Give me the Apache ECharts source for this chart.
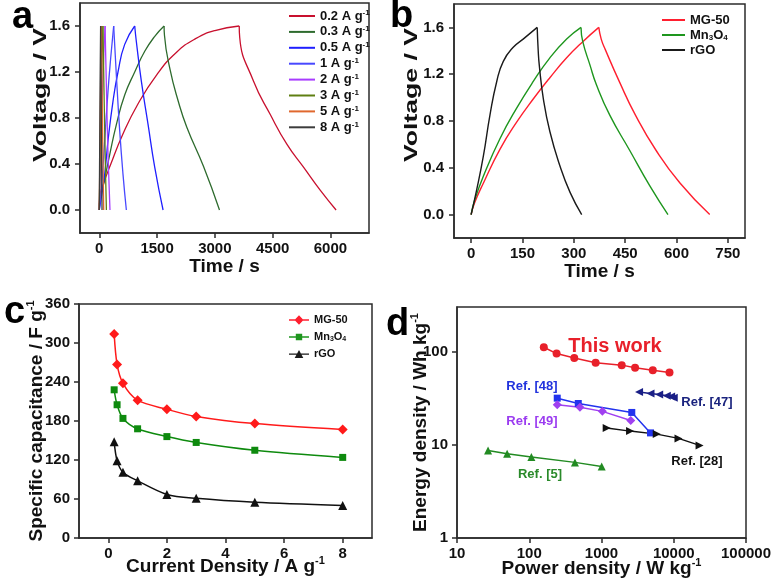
<!DOCTYPE html>
<html>
<head>
<meta charset="utf-8">
<script src="https://cdn.jsdelivr.net/npm/echarts@6/dist/echarts.min.js"></script>
<style>
html, body { margin: 0; padding: 0; background: #fff; }
#main { width: 774px; height: 584px; }
</style>
</head>
<body>
<div id="main"></div>
<script>
var FONT = '"Liberation Sans", Arial, Helvetica, sans-serif';

// ---- (a) charge/discharge curves of MG-50 at different current densities: [time s, voltage V]
var aNames = ['0.2 A g-1', '0.3 A g-1', '0.5 A g-1', '1 A g-1', '2 A g-1', '3 A g-1', '5 A g-1', '8 A g-1'];
var aColors = ['#c8102e', '#2e6b2e', '#1f1fff', '#4848ff', '#a83cff', '#5f7f12', '#e0682e', '#3c3c3c'];
var a02 = [[0, 0], [15, 0.12], [100, 0.22], [300, 0.4], [600, 0.65], [1000, 0.92], [1500, 1.18], [2000, 1.37], [2500, 1.49], [3000, 1.56], [3632, 1.6],
           [3645, 1.5], [4004, 1.12], [4438, 0.83], [4872, 0.57], [5305, 0.37], [5738, 0.17], [6146, 0]];
var a03 = [[0, 0], [20, 0.1], [96, 0.2], [270, 0.48], [442, 0.74], [660, 1.0], [920, 1.2], [1180, 1.38], [1440, 1.51], [1682, 1.6],
           [1692, 1.52], [1838, 1.22], [2046, 0.95], [2272, 0.72], [2704, 0.38], [3120, 0]];
var a05 = [[0, 0], [140, 0.31], [226, 0.6], [356, 0.945], [486, 1.2], [660, 1.44], [920, 1.6],
           [962, 1.465], [1092, 1.12], [1266, 0.744], [1440, 0.37], [1656, 0]];
var a1 = [[0, 0], [70, 0.25], [140, 0.6], [226, 1.03], [296, 1.32], [374, 1.6], [442, 1.18], [530, 0.69], [616, 0.31], [703, 0]];
var a2 = [[0, 0], [40, 0.5], [90, 1.1], [150, 1.6], [190, 1.0], [230, 0.45], [278, 0]];
var a3 = [[0, 0], [30, 0.6], [60, 1.15], [95, 1.6], [125, 1.0], [155, 0.45], [185, 0]];
var a5 = [[0, 0], [20, 0.6], [35, 1.1], [55, 1.6], [75, 1.0], [95, 0.45], [115, 0]];
var a8 = [[0, 0], [12, 0.6], [22, 1.1], [35, 1.6], [48, 1.0], [60, 0.45], [72, 0]];
var aCurves = [a02, a03, a05, a1, a2, a3, a5, a8];
var aTimeTicks = [0, 1500, 3000, 4500, 6000];
var voltTicks = [0, 0.4, 0.8, 1.2, 1.6];

// ---- (b) charge/discharge of the three electrodes
var bNames = ['MG-50', 'Mn3O4', 'rGO'];
var bColors = ['#ff1f2f', '#1e961e', '#1a1a1a'];
var bMG50 = [[0, 0], [10, 0.1], [36, 0.27], [84.5, 0.56], [133, 0.79], [182, 0.99], [230, 1.17], [279, 1.34], [327, 1.48], [373, 1.6],
             [380, 1.5], [392, 1.41], [434, 1.13], [480, 0.85], [540, 0.55], [610, 0.27], [697, 0]];
var bMn3O4 = [[0, 0], [10, 0.12], [36, 0.33], [84.5, 0.65], [133, 0.91], [182, 1.14], [230, 1.34], [279, 1.5], [321, 1.6],
              [326, 1.48], [347, 1.28], [366, 1.11], [405, 0.85], [463, 0.55], [522, 0.245], [575, 0]];
var bRGO = [[0, 0], [16.5, 0.216], [36, 0.504], [55, 0.85], [75, 1.14], [94, 1.31], [123, 1.43], [152, 1.5], [193, 1.6],
            [196, 1.4], [199, 1.28], [211, 0.99], [230, 0.71], [259, 0.42], [289, 0.19], [323, 0]];
var bCurves = [bMG50, bMn3O4, bRGO];
var bTimeTicks = [0, 150, 300, 450, 600, 750];

// ---- (c) specific capacitance vs current density
var cCurrent = [0.2, 0.3, 0.5, 1, 2, 3, 5, 8];
var cMG50 = [314, 267, 238, 212, 198, 187, 176, 167];
var cMn3O4 = [228, 205, 184, 168, 156, 147, 135, 124];
var cRGO = [148, 119, 101, 88, 67, 61, 55, 50];
var cTicks = [0, 2, 4, 6, 8];

// ---- (d) Ragone plot: [power W/kg, energy Wh/kg]
var dThisWork = [[159, 111], [239, 95], [420, 85], [830, 75.6], [1905, 71.4], [2916, 66.8], [5128, 63], [8730, 59.6]];
var dRef48 = [[244, 31.6], [477, 27.7], [2625, 22.2], [4765, 13.4]];
var dRef49 = [[244, 26.8], [503, 25.3], [1028, 22.8], [2540, 18.2]];
var dRef47 = [[3311, 36.7], [4762, 35.5], [6285, 34.6], [8018, 33.5], [9205, 32.9], [10000, 31.9]];
var dRef28 = [[1180, 15.1], [2484, 14.0], [5820, 13.0], [11640, 11.7], [22750, 9.84]];
var dRef5 = [[26.9, 8.7], [49.4, 8.0], [107, 7.38], [429, 6.47], [1005, 5.86]];

var RICH = {
  s: { fontFamily: FONT, fontSize: 11, fontWeight: 'bold', color: '#111', lineHeight: 22, padding: [0, 0, 12, 0] }
};

function axis(gi, o) {
  return {
    gridIndex: gi,
    type: o.type || 'value',
    min: o.min, max: o.max, interval: o.interval,
    name: o.name || '',
    nameLocation: 'middle',
    nameGap: o.gap,
    nameMoveOverlap: false,
    nameTextStyle: { fontFamily: FONT, fontSize: 19, fontWeight: 'bold', color: '#111', lineHeight: 22, rich: RICH },
    axisLine: { onZero: false, lineStyle: { color: '#2b2b2b', width: 1.5 } },
    axisTick: { length: 5, customValues: o.ticks, lineStyle: { color: '#2b2b2b', width: 1.5 } },
    axisLabel: {
      customValues: o.ticks, formatter: o.fmt || plain, margin: o.margin || 8, showMaxLabel: o.showMax,
      fontFamily: FONT, fontSize: 15, fontWeight: 'bold', color: '#111'
    },
    splitLine: { show: false }
  };
}

function plain(v) { return String(v); }
function fixed1(v) { return v.toFixed(1); }
function decade(v) {
  var l = Math.log(v) / Math.LN10;
  return Math.abs(l - Math.round(l)) < 1e-6 ? String(Math.round(v)) : '';
}

// split a curve at its peak so the charge and discharge branches are smoothed separately
function splitAtPeak(pts) {
  var k = 0;
  pts.forEach(function (p, i) { if (p[1] > pts[k][1]) k = i; });
  return [pts.slice(0, k + 1), pts.slice(k)];
}

var series = [];
function addCurves(names, colors, curves, gi, width) {
  curves.forEach(function (c, i) {
    splitAtPeak(c).forEach(function (part) {
      series.push({
        type: 'line', name: names[i], xAxisIndex: gi, yAxisIndex: gi,
        data: part, symbol: 'none', smooth: 0.5,
        color: colors[i], lineStyle: { width: width, color: colors[i] }
      });
    });
  });
}
addCurves(aNames, aColors, aCurves, 0, 1.3);
addCurves(bNames, bColors, bCurves, 1, 1.4);

[[cMG50, 'MG-50', '#ff1a1a', 'diamond', 10], [cMn3O4, 'Mn3O4', '#0e8a0e', 'rect', 7], [cRGO, 'rGO', '#111111', 'triangle', 9]]
  .forEach(function (s) {
    series.push({
      type: 'line', name: s[1], xAxisIndex: 2, yAxisIndex: 2,
      data: cCurrent.map(function (x, i) { return [x, s[0][i]]; }),
      symbol: s[3], symbolSize: s[4], smooth: 0.3,
      color: s[2], lineStyle: { width: 1.5, color: s[2] }, itemStyle: { color: s[2] }
    });
  });

[[dThisWork, '#e8202a', 'circle', 8, 0], [dRef48, '#2233ee', 'rect', 7, 0], [dRef49, '#a040f0', 'diamond', 9, 0],
 [dRef47, '#1a1f86', 'triangle', 8, 90], [dRef28, '#111111', 'triangle', 8, -90], [dRef5, '#228b22', 'triangle', 8, 0]]
  .forEach(function (s) {
    series.push({
      type: 'line', xAxisIndex: 3, yAxisIndex: 3, data: s[0],
      symbol: s[2], symbolSize: s[3], symbolRotate: s[4],
      color: s[1], lineStyle: { width: 1.5, color: s[1] }, itemStyle: { color: s[1] }
    });
  });

function legendText(name) {
  if (name.indexOf('Mn3O4') === 0) return 'Mn{b|3}O{b|4}';
  if (name.slice(-2) === '-1') return name.slice(0, -2) + '{s|-1}';
  return name;
}

// legend icons for panel c: a short line with the series marker in its middle
var LINE = 'M0,4 L20,4 L20,5.4 L0,5.4 Z ';
var cLegendIcons = [
  'path://' + LINE + 'M10,0 L14.5,4.7 L10,9.4 L5.5,4.7 Z',
  'path://' + LINE + 'M6.8,1.5 L13.2,1.5 L13.2,7.9 L6.8,7.9 Z',
  'path://' + LINE + 'M10,0.6 L14.3,8.6 L5.7,8.6 Z'
];

var option = {
  animation: false,
  backgroundColor: '#fff',
  grid: [
    { left: 80, top: 3, width: 289, height: 230 },
    { left: 454, top: 4, width: 291, height: 234 },
    { left: 79, top: 304, width: 293, height: 234 },
    { left: 457, top: 307, width: 289, height: 231 }
  ].map(function (g) {
    g.show = true; g.borderColor = '#2b2b2b'; g.borderWidth = 1.5; g.containLabel = false; g.outerBoundsMode = 'none';
    return g;
  }),
  xAxis: [
    axis(0, { min: -500, max: 7000, ticks: aTimeTicks, name: 'Time / s', gap: 23 }),
    axis(1, { min: -50, max: 800, ticks: bTimeTicks, name: 'Time / s', gap: 23 }),
    axis(2, { min: -1, max: 9, ticks: cTicks, name: 'Current Density / A g{s|-1}', gap: 18 }),
    axis(3, { type: 'log', min: 10, max: 100000, name: 'Power density / W kg{s|-1}', gap: 20, fmt: decade })
  ],
  yAxis: [
    axis(0, { min: -0.2, max: 1.8, ticks: voltTicks, fmt: fixed1, margin: 10 }),
    axis(1, { min: -0.2, max: 1.8, ticks: voltTicks, fmt: fixed1, margin: 10 }),
    axis(2, { min: 0, max: 360, interval: 60, name: 'Specific capacitance / F g{s|-1}', gap: 31, margin: 9 }),
    axis(3, { type: 'log', min: 1, max: 300, name: 'Energy density / Wh kg{s|-1}', gap: 25, fmt: decade, showMax: false, margin: 9 })
  ],
  legend: [
    {
      data: aNames, left: 289, top: 9, padding: 0, orient: 'vertical', icon: 'rect', itemWidth: 26, itemHeight: 2, itemGap: 1.9,
      formatter: legendText,
      textStyle: { fontFamily: FONT, fontSize: 13, fontWeight: 'bold', color: '#111', lineHeight: 14,
        rich: { s: { fontFamily: FONT, fontSize: 8, fontWeight: 'bold', color: '#111', lineHeight: 14, padding: [0, 0, 6, 0] } } }
    },
    {
      data: bNames, left: 662, top: 13, padding: 0, orient: 'vertical', icon: 'rect', itemWidth: 23, itemHeight: 2, itemGap: 1,
      formatter: legendText,
      textStyle: { fontFamily: FONT, fontSize: 13, fontWeight: 'bold', color: '#111', lineHeight: 14,
        rich: { b: { fontFamily: FONT, fontSize: 8, fontWeight: 'bold', color: '#111', lineHeight: 14, padding: [6, 0, 0, 0] } } }
    },
    {
      data: ['MG-50', 'Mn3O4', 'rGO'].map(function (n, i) { return { name: n, icon: cLegendIcons[i] }; }),
      left: 289, top: 313, padding: 0, orient: 'vertical', itemWidth: 20, itemHeight: 9.4, itemGap: 3,
      formatter: legendText,
      textStyle: { fontFamily: FONT, fontSize: 11, fontWeight: 'bold', color: '#111', lineHeight: 14,
        rich: { b: { fontFamily: FONT, fontSize: 7, fontWeight: 'bold', color: '#111', lineHeight: 14, padding: [5, 0, 0, 0] } } }
    }
  ],
  graphic: [
    { type: 'text', x: 12, y: 18, style: { text: 'a', font: 'bold 38px ' + FONT, fill: '#000', textVerticalAlign: 'middle' } },
    { type: 'text', x: 390, y: 17, style: { text: 'b', font: 'bold 38px ' + FONT, fill: '#000', textVerticalAlign: 'middle' } },
    { type: 'text', x: 4, y: 313, style: { text: 'c', font: 'bold 38px ' + FONT, fill: '#000', textVerticalAlign: 'middle' } },
    { type: 'text', x: 386, y: 325, style: { text: 'd', font: 'bold 38px ' + FONT, fill: '#000', textVerticalAlign: 'middle' } },
    { type: 'text', x: 41, y: 95, rotation: Math.PI / 2, scaleX: 1.4,
      style: { text: 'Voltage / V', font: 'bold 19px ' + FONT, fill: '#111', textAlign: 'center', textVerticalAlign: 'middle' } },
    { type: 'text', x: 412, y: 95, rotation: Math.PI / 2, scaleX: 1.4,
      style: { text: 'Voltage / V', font: 'bold 19px ' + FONT, fill: '#111', textAlign: 'center', textVerticalAlign: 'middle' } },
    { type: 'text', x: 615, y: 346, style: { text: 'This work', font: 'bold 20px ' + FONT, fill: '#e8202a', textAlign: 'center', textVerticalAlign: 'middle' } },
    { type: 'text', x: 532, y: 386, style: { text: 'Ref. [48]', font: 'bold 13px ' + FONT, fill: '#2233dd', textAlign: 'center', textVerticalAlign: 'middle' } },
    { type: 'text', x: 532, y: 421, style: { text: 'Ref. [49]', font: 'bold 13px ' + FONT, fill: '#9b3cf0', textAlign: 'center', textVerticalAlign: 'middle' } },
    { type: 'text', x: 707, y: 402, style: { text: 'Ref. [47]', font: 'bold 13px ' + FONT, fill: '#1a237e', textAlign: 'center', textVerticalAlign: 'middle' } },
    { type: 'text', x: 697, y: 461, style: { text: 'Ref. [28]', font: 'bold 13px ' + FONT, fill: '#111', textAlign: 'center', textVerticalAlign: 'middle' } },
    { type: 'text', x: 540, y: 474, style: { text: 'Ref. [5]', font: 'bold 13px ' + FONT, fill: '#2a8a2a', textAlign: 'center', textVerticalAlign: 'middle' } }
  ],
  series: series
};

var myChart = echarts.init(document.getElementById('main'));
myChart.setOption(option);
</script>
</body>
</html>
